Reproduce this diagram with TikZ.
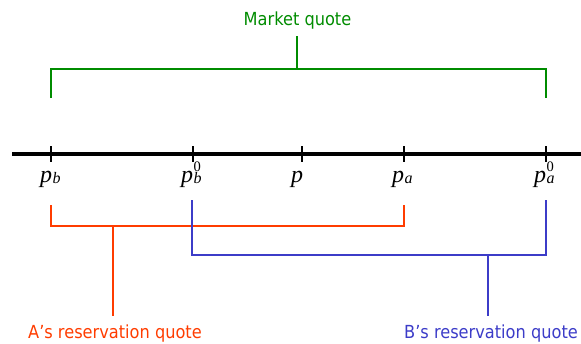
\documentclass[tikz,border=0pt]{standalone}
\usepackage{graphicx}
\usepackage{fontspec}
\setsansfont{DejaVu Sans}[FakeStretch=0.9]
\newfontfamily\tfont{Liberation Serif}
\newcommand{\plabel}[2]{{\tfont\fontsize{24}{24}\selectfont\itshape p}\makebox[0pt][l]{\raisebox{10.5pt}{\tfont\fontsize{14.5}{14.5}\selectfont\hspace{0.5pt}#2}}\raisebox{-1.5pt}{\tfont\fontsize{16}{16}\selectfont\itshape\hspace{0.5pt}#1}}
\begin{document}
\begin{tikzpicture}[x=1pt,y=-1pt,
  axis/.style={line width=4pt,black},
  tick/.style={line width=2.6pt,black},
  grn/.style={draw=mgreen,line width=1.8pt},
  red/.style={draw=mred,line width=1.6pt},
  blu/.style={draw=mblue,line width=1.6pt},
  plab/.style={inner sep=0pt,anchor=base west},
  qlab/.style={font=\sffamily\fontsize{18}{18}\selectfont,inner sep=0pt,anchor=base}]
\definecolor{mgreen}{RGB}{0,140,0}
\definecolor{mred}{RGB}{255,60,0}
\definecolor{mblue}{RGB}{60,60,200}
\useasboundingbox (0,0) rectangle (581,343);
% axis
\coordinate (L) at (12,154);
\coordinate (R) at (581,154);
\draw[axis] (L) -- (R);
\foreach \n/\x in {t1/51,t2/193,t3/302,t4/404,t5/546}{
  \coordinate (\n top) at (\x,146);
  \coordinate (\n bot) at (\x,162);
  \draw[tick] (\n top) -- (\n bot);
}
\node[plab] (pb) at (40,182) {\plabel{b}{}};
\node[plab] (pb0) at (181,182) {\plabel{b}{0}};
\node[plab] (p) at (291,182) {\plabel{}{}};
\node[plab] (pa) at (392,182) {\plabel{a}{}};
\node[plab] (pa0) at (534,182) {\plabel{a}{0}};
% green
\node[qlab,text=mgreen] (mq) at (297.5,25) {Market quote};
\coordinate (g1) at (51,98);
\coordinate (g2) at (51,69);
\coordinate (g3) at (546,69);
\coordinate (g4) at (546,98);
\coordinate (gm) at (297,69);
\coordinate (gt) at (297,36);
\draw[grn] (g1) -- (g2) -- (g3) -- (g4);
\draw[grn] (gm) -- (gt);
% red
\coordinate (r1) at (51,205);
\coordinate (r2) at (51,226);
\coordinate (r3) at (404,226);
\coordinate (r4) at (404,205);
\coordinate (rm) at (113,226);
\coordinate (rb) at (113,316);
\draw[red] (r1) -- (r2) -- (r3) -- (r4);
\draw[red] (rm) -- (rb);
\node[qlab,text=mred] (aq) at (115,338) {A’s reservation quote};
% blue
\coordinate (b1) at (192,200);
\coordinate (b2) at (192,255);
\coordinate (b3) at (546,255);
\coordinate (b4) at (546,200);
\coordinate (bm) at (488,255);
\coordinate (bb) at (488,316);
\draw[blu] (b1) -- (b2) -- (b3) -- (b4);
\draw[blu] (bm) -- (bb);
\node[qlab,text=mblue] (bq) at (491,338) {B’s reservation quote};
\end{tikzpicture}
\end{document}
